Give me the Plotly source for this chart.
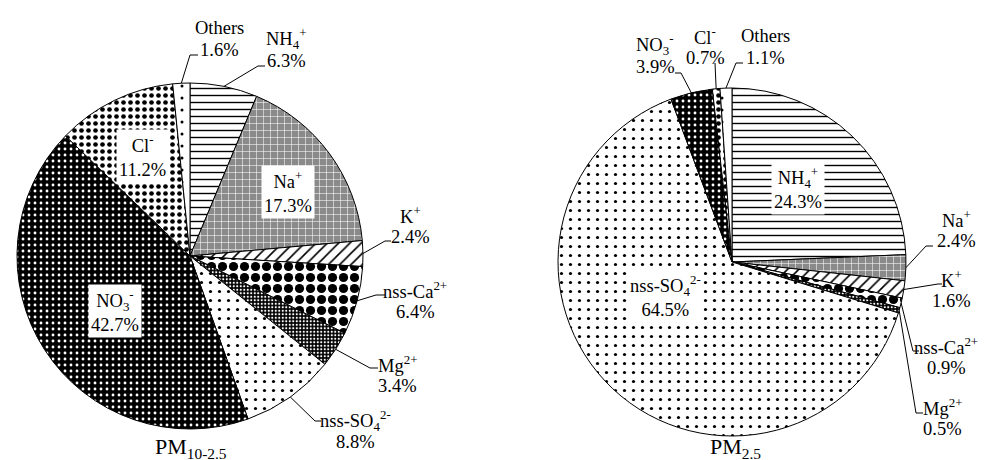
import math
import plotly.graph_objects as go

# ---------------- data ----------------
species = ["NH4+", "Na+", "K+", "nss-Ca2+", "Mg2+", "nss-SO42-", "NO3-", "Cl-", "Others"]
species_html = ["NH<sub>4</sub><sup>+</sup>", "Na<sup>+</sup>", "K<sup>+</sup>",
                "nss-Ca<sup>2+</sup>", "Mg<sup>2+</sup>", "nss-SO<sub>4</sub><sup>2-</sup>",
                "NO<sub>3</sub><sup>-</sup>", "Cl<sup>-</sup>", "Others"]
coarse_pct = [6.3, 17.3, 2.4, 6.4, 3.4, 8.8, 42.7, 11.2, 1.6]   # PM10-2.5
fine_pct = [24.3, 2.4, 1.6, 0.9, 0.5, 64.5, 3.9, 0.7, 1.1]      # PM2.5
titles = ["PM<sub>10-2.5</sub>", "PM<sub>2.5</sub>"]

# ---------------- styles ----------------
W, H = 989, 460
FONT = "Liberation Serif, Times New Roman, serif"
FS = 18.5
bg = ["white", "#8a8a8a", "white", "white", "black", "white", "black", "white", "white"]
fg = ["black", "white", "black", "black", "white", "black", "white", "black", "black"]
shape = ["-", "+", "/", ".", ".", ".", ".", ".", "."]
psize = [7, 7, 8, 11, 3.5, 9, 6, 7, 12]
solid = [0.2, 0.15, 0.2, 0.55, 0.3, 0.1, 0.18, 0.35, 0.05]

# layout of each pie (pixel centre, radius) and label placement
pies = [
    dict(cx=182, cy=248, r=173, values=coarse_pct, title_pos=(183, 440),
         inside={"Na+": (280, 184), "Cl-": (134, 148), "NO3-": (107, 303)},
         outside={
             "Others": ((211, 31), [(182, 47), (190, 47)]),
             "NH4+": ((278, 42), [(250, 58), (257, 58)]),
             "K+": ((402, 218), [(377, 233), (383, 233)]),
             "nss-Ca2+": ((407, 293), [(368, 287), (377, 287)]),
             "Mg2+": ((389, 367), [(362, 360), (370, 360)]),
             "nss-SO42-": ((347, 423), [(307, 413), (313, 413)]),
         }),
    dict(cx=724, cy=254, r=174, values=fine_pct, title_pos=(727, 440),
         inside={"NH4+": (790, 180), "nss-SO42-": (657, 288)},
         outside={
             "NO3-": ((647, 48), [(673, 65), (667, 65)]),
             "Cl-": ((697, 39), [(707, 55)]),
             "Others": ((757, 39), [(728, 55), (735, 55)]),
             "Na+": ((948, 222), [(918, 238), (925, 238)]),
             "K+": ((943, 282), [(930, 276), (934, 276)]),
             "nss-Ca2+": ((938, 349), [(905, 343), (911, 343)]),
             "Mg2+": ((934, 410), [(908, 405), (915, 405)]),
         }),
]


def px(x):
    return x / W


def py(y):
    return 1 - y / H


fig = go.Figure()
annotations = []
shapes = []


def ann(x, y, text, size=FS, **kw):
    d = dict(x=px(x), y=py(y), xref="paper", yref="paper", text=text, showarrow=False,
             font=dict(family=FONT, size=size, color="black"),
             xanchor="center", yanchor="middle")
    d.update(kw)
    annotations.append(d)


for p in pies:
    cx, cy, r, vals = p["cx"], p["cy"], p["r"], p["values"]
    fig.add_trace(go.Pie(
        labels=species, values=vals, sort=False, direction="clockwise", rotation=0,
        textinfo="none", showlegend=False,
        domain=dict(x=[px(cx - r), px(cx + r)], y=[py(cy + r), py(cy - r)]),
        marker=dict(colors=bg, line=dict(color="black", width=1),
                    pattern=dict(shape=shape, fgcolor=fg, bgcolor=bg, size=psize,
                                 solidity=solid, fillmode="replace")),
    ))
    total = sum(vals)
    cum = 0
    mid = {}
    for s, v in zip(species, vals):
        mid[s] = 2 * math.pi * (cum + v / 2) / total
        cum += v

    for s, (x, y) in p["inside"].items():
        i = species.index(s)
        ann(x, y, f"{species_html[i]}<br>{vals[i]:.1f}%", bgcolor="white", borderpad=2)
    for s, ((x, y), pts) in p["outside"].items():
        i = species.index(s)
        ann(x, y - 11, species_html[i])
        ann(x, y + 11, f"{vals[i]:.1f}%")
        a = mid[s]
        ex, ey = cx + r * math.sin(a), cy - r * math.cos(a)
        path = f"M {px(ex)} {py(ey)}" + "".join(f" L {px(qx)} {py(qy)}" for qx, qy in pts)
        shapes.append(dict(type="path", path=path, xref="paper", yref="paper",
                           line=dict(color="black", width=1)))

for p, t in zip(pies, titles):
    x, y = p["title_pos"]
    ann(x, y, t, size=22)

fig.update_layout(width=W, height=H, margin=dict(l=0, r=0, t=0, b=0),
                  paper_bgcolor="white", plot_bgcolor="white",
                  annotations=annotations, shapes=shapes)
fig.write_html("out.html")
